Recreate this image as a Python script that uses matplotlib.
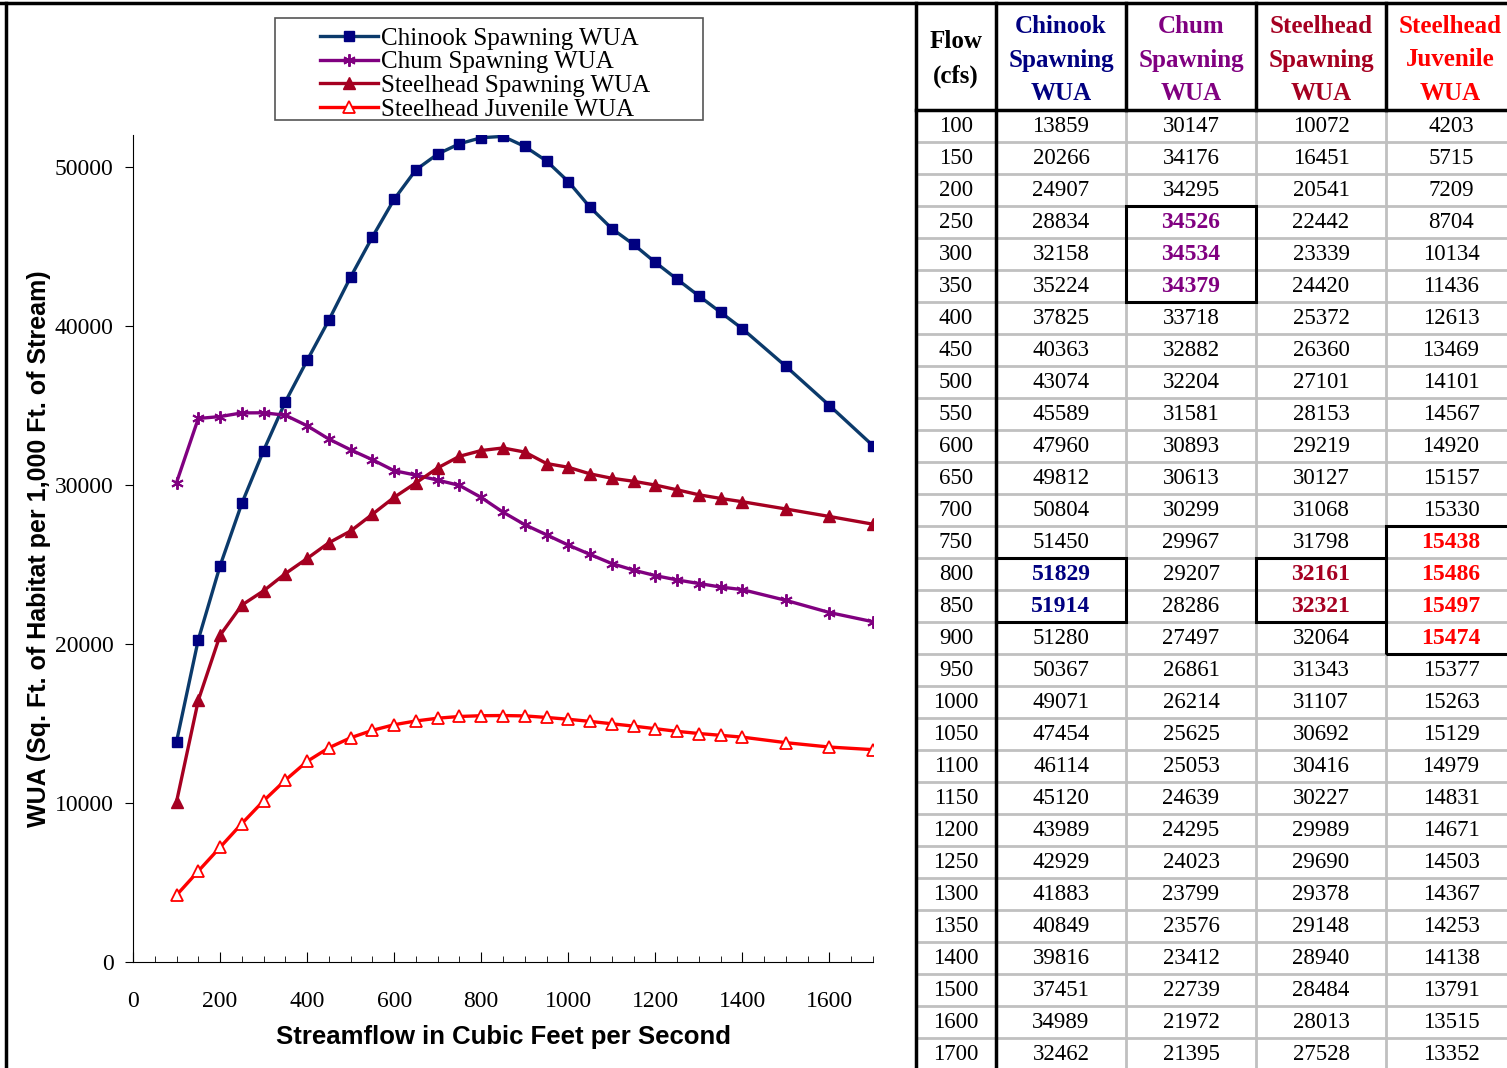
import matplotlib
matplotlib.use("Agg")
import matplotlib.pyplot as plt
from matplotlib.lines import Line2D
from matplotlib.patches import Rectangle
from matplotlib.ticker import MultipleLocator

W, H = 1507, 1068

# ---- data (table values, also used for the chart) ----
flow = [100, 150, 200, 250, 300, 350, 400, 450, 500, 550, 600, 650, 700, 750, 800,
        850, 900, 950, 1000, 1050, 1100, 1150, 1200, 1250, 1300, 1350, 1400, 1500,
        1600, 1700]
chinook = [13859, 20266, 24907, 28834, 32158, 35224, 37825, 40363, 43074, 45589,
           47960, 49812, 50804, 51450, 51829, 51914, 51280, 50367, 49071, 47454,
           46114, 45120, 43989, 42929, 41883, 40849, 39816, 37451, 34989, 32462]
chum = [30147, 34176, 34295, 34526, 34534, 34379, 33718, 32882, 32204, 31581,
        30893, 30613, 30299, 29967, 29207, 28286, 27497, 26861, 26214, 25625,
        25053, 24639, 24295, 24023, 23799, 23576, 23412, 22739, 21972, 21395]
steel_spawn = [10072, 16451, 20541, 22442, 23339, 24420, 25372, 26360, 27101, 28153,
               29219, 30127, 31068, 31798, 32161, 32321, 32064, 31343, 31107, 30692,
               30416, 30227, 29989, 29690, 29378, 29148, 28940, 28484, 28013, 27528]
steel_juv = [4203, 5715, 7209, 8704, 10134, 11436, 12613, 13469, 14101, 14567,
             14920, 15157, 15330, 15438, 15486, 15497, 15474, 15377, 15263, 15129,
             14979, 14831, 14671, 14503, 14367, 14253, 14138, 13791, 13515, 13352]

series_names = ["Chinook Spawning WUA", "Chum Spawning WUA",
                "Steelhead Spawning WUA", "Steelhead Juvenile WUA"]
headers = ["Chinook\nSpawning\nWUA", "Chum\nSpawning\nWUA",
           "Steelhead\nSpawning\nWUA", "Steelhead\nJuvenile\nWUA"]
# highlighted rows (indices) per table column
highlights = [[14, 15], [3, 4, 5], [14, 15], [13, 14, 15, 16]]

line_colors = ["#0B3A6B", "#800080", "#A50021", "#FF0000"]
head_colors = ["#000080", "#800080", "#A50021", "#FF0000"]
marker_colors = ["#000080", "#800080", "#A50021", "#FF0000"]

serif = "Liberation Serif"
sans = "Liberation Sans"


def fx(x):
    return x / W


def fy(y):
    return 1 - y / H


fig = plt.figure(figsize=(W / 100, H / 100), dpi=100)

# ---- chart ----
ax = fig.add_axes([fx(133), fy(962), (873 - 133) / W, (962 - 135) / H])
ax.plot(flow, chinook, color=line_colors[0], lw=2.4, marker="s", ms=6.5,
        mfc=marker_colors[0], mec=marker_colors[0], label=series_names[0])
ax.plot(flow, chum, color=line_colors[1], lw=2.4, marker=(6, 2, 0), ms=9,
        mec=marker_colors[1], mew=1.4, label=series_names[1])
ax.plot(flow, steel_spawn, color=line_colors[2], lw=2.4, marker="^", ms=8,
        mfc=marker_colors[2], mec=marker_colors[2], label=series_names[2])
ax.plot(flow, steel_juv, color=line_colors[3], lw=2.4, marker="^", ms=8,
        mfc="white", mec=marker_colors[3], mew=1.3, label=series_names[3])

ax.set_xlim(0, 1700)
ax.set_ylim(0, 52000)
ax.xaxis.set_minor_locator(MultipleLocator(50))
ax.yaxis.set_major_locator(MultipleLocator(10000))
ax.set_xticks(range(0, 1601, 200))
ax.tick_params(axis="x", which="major", direction="in", length=7, pad=21,
               labelsize=17)
ax.tick_params(axis="x", which="minor", direction="in", length=4)
ax.tick_params(axis="y", direction="out", length=6, pad=8, labelsize=17)
for lab in ax.get_xticklabels() + ax.get_yticklabels():
    lab.set_fontfamily(serif)
for s in ["top", "right"]:
    ax.spines[s].set_visible(False)
ax.set_xlabel("Streamflow in Cubic Feet per Second", fontfamily=sans,
              fontweight="bold", fontsize=18.5, labelpad=9)
ax.set_ylabel("WUA (Sq. Ft. of Habitat per 1,000 Ft. of Stream)", fontfamily=sans,
              fontweight="bold", fontsize=18, labelpad=3)
ax.patch.set_alpha(0)

# legend: own frame, legend without frame inside it
fig.add_artist(Rectangle((fx(275), fy(120)), fx(703 - 275), (120 - 18) / H,
                         fill=False, edgecolor="#555555", lw=1.2,
                         transform=fig.transFigure))
leg = fig.legend(loc="upper left", bbox_to_anchor=(fx(320), fy(27)),
                 prop={"family": serif, "size": 18}, frameon=False,
                 handlelength=2.3, labelspacing=0.05, borderpad=0,
                 handletextpad=0.15, borderaxespad=0)

# ---- frame lines ----
fig.add_artist(Line2D([0, 1], [fy(3), fy(3)], color="black", lw=2.5))
fig.add_artist(Line2D([fx(6), fx(6)], [fy(3), 0], color="black", lw=2.5))

# ---- table ----
cols = [916, 996, 1126, 1256, 1386, 1520]
head_bottom = 110
row_h = 32
grey = "#C0C0C0"

for i in range(len(flow) + 1):
    y = head_bottom + i * row_h
    fig.add_artist(Line2D([fx(cols[0]), 1], [fy(y), fy(y)], color=grey, lw=2))
for c in cols[2:5]:
    fig.add_artist(Line2D([fx(c), fx(c)], [fy(head_bottom), 0], color=grey, lw=2))
fig.add_artist(Line2D([fx(cols[0]), 1], [fy(head_bottom), fy(head_bottom)],
                      color="black", lw=2.5))
for c in cols[2:5]:
    fig.add_artist(Line2D([fx(c), fx(c)], [fy(3), fy(head_bottom)], color="black", lw=2.5))
for c in cols[:2]:
    fig.add_artist(Line2D([fx(c), fx(c)], [fy(3), 0], color="black", lw=2.5))

fig.text(fx((cols[0] + cols[1]) / 2), fy(59), "Flow\n(cfs)", ha="center", va="center",
         fontfamily=serif, fontweight="bold", fontsize=18, linespacing=1.6)
for j, hdr in enumerate(headers):
    fig.text(fx((cols[j + 1] + cols[j + 2]) / 2 if j < 3 else 1450), fy(60), hdr,
             ha="center", va="center", fontfamily=serif, fontweight="bold",
             fontsize=18, color=head_colors[j], linespacing=1.6)

table_cols = [chinook, chum, steel_spawn, steel_juv]
for i, f in enumerate(flow):
    yc = head_bottom + i * row_h + row_h / 2 + 1
    fig.text(fx((cols[0] + cols[1]) / 2), fy(yc), str(f), ha="center", va="center",
             fontfamily=serif, fontsize=16.5)
    for j, vals in enumerate(table_cols):
        hl = i in highlights[j]
        xc = (cols[j + 1] + cols[j + 2]) / 2 if j < 3 else 1451
        fig.text(fx(xc), fy(yc), str(vals[i]), ha="center", va="center",
                 fontfamily=serif, fontsize=17 if hl else 16.5,
                 fontweight="bold" if hl else "normal",
                 color=head_colors[j] if hl else "black")

for j, rows in enumerate(highlights):
    y0 = head_bottom + rows[0] * row_h
    y1 = head_bottom + (rows[-1] + 1) * row_h
    x0 = cols[j + 1]
    x1 = cols[j + 2]
    fig.add_artist(Rectangle((fx(x0), fy(y1)), fx(x1 - x0), (y1 - y0) / H,
                             fill=False, edgecolor="black", lw=2.2, zorder=5,
                             transform=fig.transFigure))

fig.savefig("out.png", dpi=100)
